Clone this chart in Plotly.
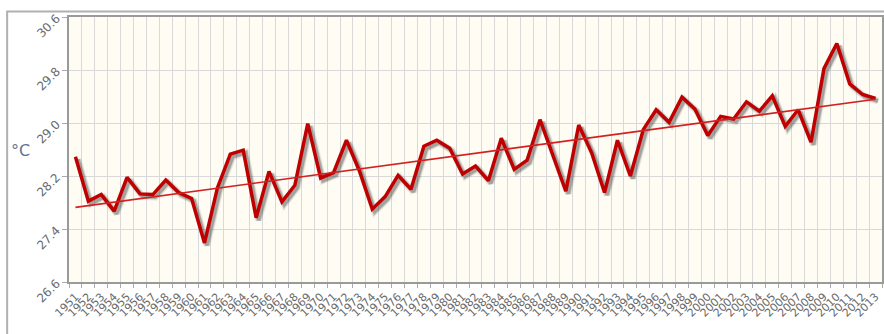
import numpy as np
import plotly.graph_objects as go

# Annual mean temperature, 1951-2013 (°C)
years = [str(y) for y in range(1951, 2014)]
temps = [
    28.49, 27.82, 27.92, 27.67, 28.18, 27.93, 27.92, 28.14, 27.95, 27.86,
    27.19, 28.02, 28.53, 28.59, 27.57, 28.27, 27.81, 28.06, 28.99, 28.17,
    28.25, 28.74, 28.28, 27.70, 27.89, 28.21, 28.00, 28.65, 28.74, 28.62,
    28.23, 28.35, 28.13, 28.77, 28.30, 28.44, 29.05, 28.50, 27.97, 28.97,
    28.55, 27.95, 28.74, 28.20, 28.90, 29.20, 29.01, 29.39, 29.21, 28.81,
    29.10, 29.06, 29.32, 29.18, 29.41, 28.95, 29.20, 28.71, 29.82, 30.20,
    29.59, 29.43, 29.37,
]
y_ticks = [26.6, 27.4, 28.2, 29.0, 29.8, 30.6]

# Linear trend over the whole record
idx = np.arange(len(temps))
slope, intercept = np.polyfit(idx, temps, 1)
trend = list(slope * idx + intercept)

W, H = 884, 334
M_L, M_R, M_T, M_B = 69, 0, 17, 52
plot_w = W - M_L - M_R
plot_h = H - M_T - M_B

x_range = [-0.5, len(years) - 0.5]
y_range = [26.6, 30.6]

# Drop shadow: same series on an overlay whose ranges are nudged by a few pixels
sx = 2.5 * (x_range[1] - x_range[0]) / plot_w
sy = 2.5 * (y_range[1] - y_range[0]) / plot_h

fig = go.Figure()

# Invisible carrier trace so the base axes (grid, ticks, labels) are drawn
fig.add_trace(go.Scatter(
    x=years, y=temps, mode="lines", line=dict(width=0, color="rgba(0,0,0,0)"),
    hoverinfo="skip", showlegend=False,
))

for w, a in [(7, 0.10), (5, 0.18), (3.5, 0.28)]:
    fig.add_trace(go.Scatter(
        x=years, y=temps, xaxis="x2", yaxis="y2", mode="lines",
        line=dict(color=f"rgba(60,60,60,{a})", width=w),
        hoverinfo="skip", showlegend=False,
    ))

fig.add_trace(go.Scatter(
    x=years, y=temps, xaxis="x3", yaxis="y3", mode="lines",
    line=dict(color="#c00000", width=3.5),
    name="Temperature", showlegend=False,
))
fig.add_trace(go.Scatter(
    x=years, y=trend, xaxis="x3", yaxis="y3", mode="lines",
    line=dict(color="#d42020", width=1.6),
    name="Trend", showlegend=False,
))

tick_font = dict(family="DejaVu Sans", size=11, color="#6a6a6a")

fig.update_layout(
    width=W, height=H,
    margin=dict(l=M_L, r=M_R, t=M_T, b=M_B),
    paper_bgcolor="white",
    plot_bgcolor="#fffcf3",
    xaxis=dict(
        type="category", categoryorder="array", categoryarray=years,
        range=x_range, tickson="boundaries",
        tickmode="array", tickvals=years, ticktext=years,
        showgrid=True, gridcolor="#d9d9d9", gridwidth=1,
        ticks="outside", ticklen=4, tickcolor="#aaaaaa",
        showline=True, linecolor="#9a9a9a", linewidth=2, mirror=True,
        tickangle=-45, tickfont=tick_font, ticklabelstandoff=2,
        zeroline=False, fixedrange=True,
    ),
    yaxis=dict(
        range=y_range, tickvals=y_ticks, ticktext=[f"{v:.1f}" for v in y_ticks],
        showgrid=True, gridcolor="#d9d9d9", gridwidth=1,
        ticks="outside", ticklen=5, tickcolor="#aaaaaa",
        showline=True, linecolor="#9a9a9a", linewidth=2, mirror=True,
        tickangle=-45, tickfont=dict(family="DejaVu Sans", size=12, color="#6a6a6a"),
        ticklabelstandoff=3,
        zeroline=False, fixedrange=True,
    ),
    xaxis2=dict(
        type="category", categoryorder="array", categoryarray=years,
        overlaying="x", range=[x_range[0] - sx, x_range[1] - sx],
        visible=False, fixedrange=True,
    ),
    yaxis2=dict(
        overlaying="y", range=[y_range[0] + sy, y_range[1] + sy],
        visible=False, fixedrange=True,
    ),
    xaxis3=dict(
        type="category", categoryorder="array", categoryarray=years,
        overlaying="x", range=x_range, visible=False, fixedrange=True,
    ),
    yaxis3=dict(
        overlaying="y", range=y_range, visible=False, fixedrange=True,
    ),
    annotations=[dict(
        text="°C", xref="paper", yref="paper",
        x=(20 - M_L) / plot_w, y=(H - M_B - 150) / plot_h,
        xanchor="center", yanchor="middle", showarrow=False,
        font=dict(family="DejaVu Sans", size=16, color="#5f7396"),
    )],
    shapes=[dict(
        type="rect", xref="paper", yref="paper", layer="below",
        x0=(7 - M_L) / plot_w, x1=1.2,
        y0=-0.4, y1=(H - M_B - 11.5) / plot_h,
        line=dict(color="#b0b0b0", width=2), fillcolor="rgba(0,0,0,0)",
    )],
)

fig.write_html("out.html")
